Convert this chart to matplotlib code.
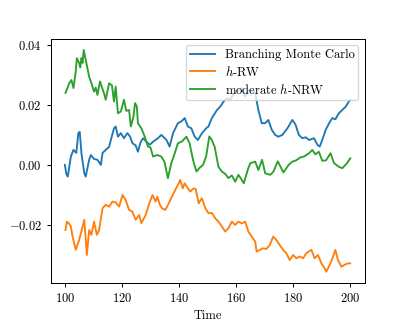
import matplotlib
matplotlib.use("Agg")
import matplotlib.pyplot as plt

plt.rcParams['font.family'] = 'serif'
plt.rcParams['font.serif'] = ['cmr10', 'DejaVu Serif']
plt.rcParams['mathtext.fontset'] = 'cm'
plt.rcParams['axes.formatter.use_mathtext'] = True

# Branching Monte Carlo
bmc_t = [100, 100.5, 101, 102.1, 103, 104, 104.7, 105.2, 105.8, 106.8, 107.3, 108.5,
         109.1, 110.2, 111.4, 112.6, 113.2, 114.3, 115.5, 116.1, 117.2, 117.8, 118.6,
         119.6, 120.7, 121.9, 122.8, 123.7, 124.8, 125.6, 126.5, 127.4, 128.5, 129.7,
         131, 132.6, 133.8, 134.7, 135.6, 136.7, 137.9, 139.6, 140.8, 142, 143.1,
         144.3, 145.5, 146.6, 148, 149.5, 150.3, 151.5, 153.3, 154.5, 155.6, 156.8,
         157.9, 159.7, 160.8, 162, 163.2, 164.3, 165.5, 166.7, 167.8, 169, 170.2,
         171.3, 172.5, 173.7, 174.8, 176.2, 178, 179.7, 180.8, 182, 183.2, 184.4,
         185.6, 187.3, 188.5, 189.3, 190.2, 191.4, 192.6, 193.7, 194.8, 196, 197.2,
         198.4, 199.5, 200]
bmc_y = [0.0, -0.003, -0.0039, 0.0028, 0.005, 0.004, 0.0106, 0.011, 0.0039, -0.0028,
         -0.0039, 0.0017, 0.0033, 0.002, 0.0017, 0.0, 0.004, 0.005, 0.006, 0.0083,
         0.0122, 0.0128, 0.0094, 0.0106, 0.0089, 0.0106, 0.0095, 0.0072, 0.0065,
         0.0044, 0.0075, 0.0089, 0.0078, 0.0067, 0.0078, 0.0089, 0.01, 0.0092, 0.0083,
         0.0061, 0.0106, 0.0139, 0.0145, 0.0156, 0.0128, 0.0122, 0.0094, 0.0083,
         0.0105, 0.0122, 0.0128, 0.0156, 0.0183, 0.0195, 0.0211, 0.0222, 0.0217,
         0.0244, 0.025, 0.0256, 0.0228, 0.025, 0.0245, 0.0239, 0.0183, 0.0139, 0.0139,
         0.015, 0.0117, 0.01, 0.0094, 0.01, 0.0122, 0.015, 0.0135, 0.01, 0.0089,
         0.0092, 0.0083, 0.0089, 0.0067, 0.0061, 0.0083, 0.0117, 0.0139, 0.0156,
         0.0152, 0.0172, 0.0183, 0.0194, 0.0211, 0.0217]

# h-RW
hrw_t = [100.2, 100.7, 101.4, 102.1, 102.7, 103.8, 105, 106.2, 106.8, 107.7, 108.5,
         109.3, 110.2, 111.2, 112, 113.2, 114.3, 115.5, 116.7, 117.8, 119, 120.2,
         121.3, 122.5, 123.6, 124.8, 126, 126.8, 128.3, 129.5, 130.7, 131.8, 132.4,
         133.3, 134, 135.2, 136.3, 137.5, 138.7, 139.9, 140.4, 141.3, 142, 142.9,
         143.9, 145.1, 145.8, 146.9, 148, 149.2, 150.3, 151.5, 152.7, 153.8, 155,
         156.2, 157.3, 158.5, 159.7, 160.8, 162, 163.2, 164.3, 165.5, 166.7, 167.2,
         168.3, 169.5, 170.6, 171.8, 173, 174.1, 175.3, 176.5, 177.6, 178.8, 180,
         181.1, 182.3, 183.5, 184.6, 186.4, 187.5, 188.7, 189.9, 191, 191.6, 192.8,
         193.8, 194.8, 195.7, 196.9, 198, 199.2, 200]
hrw_y = [-0.0217, -0.0189, -0.0195, -0.0206, -0.0239, -0.0283, -0.025, -0.0206,
         -0.0183, -0.03, -0.0217, -0.0233, -0.0189, -0.0233, -0.0217, -0.0144,
         -0.0133, -0.0139, -0.0122, -0.0125, -0.0139, -0.01, -0.0117, -0.015,
         -0.0155, -0.0183, -0.0167, -0.0194, -0.0167, -0.013, -0.01, -0.0122,
         -0.0106, -0.0133, -0.0144, -0.015, -0.013, -0.0106, -0.0083, -0.0061,
         -0.005, -0.0078, -0.0061, -0.0075, -0.0089, -0.0078, -0.008, -0.0128,
         -0.0111, -0.0144, -0.0161, -0.016, -0.0178, -0.0189, -0.0205, -0.0222,
         -0.0211, -0.0189, -0.02, -0.0189, -0.0195, -0.0189, -0.0222, -0.0239,
         -0.0256, -0.0289, -0.0283, -0.0278, -0.028, -0.0267, -0.0239, -0.025,
         -0.0267, -0.0283, -0.0294, -0.0317, -0.03, -0.0311, -0.0305, -0.0311,
         -0.0294, -0.0283, -0.0311, -0.03, -0.0328, -0.0344, -0.0356, -0.0333,
         -0.031, -0.0283, -0.0317, -0.0339, -0.0333, -0.0328, -0.0328]

# moderate h-NRW
nrw_t = [100.2, 100.9, 101.5, 102.3, 103, 103.8, 104.2, 105, 105.4, 105.8, 106.2,
         106.6, 107.3, 108.5, 109.3, 110.2, 110.8, 111.4, 112.3, 113.7, 114.3, 115.5,
         116.5, 117.2, 117.8, 118.6, 119.6, 120.7, 121.5, 122.5, 123.1, 124, 124.6,
         125.2, 125.6, 126.8, 128, 129.1, 130, 130.9, 132.3, 133.8, 134.9, 136.1,
         137.3, 138.5, 139.6, 141, 142.6, 143.7, 144.9, 146.1, 147.2, 148.4, 149.5,
         150.6, 151.5, 152.5, 153.8, 155, 156.2, 157.3, 158.5, 159.7, 160.8, 162,
         162.7, 164.3, 165, 166.7, 167.8, 169.1, 170.2, 172, 173.1, 174.6, 176.6,
         178.4, 179.7, 181, 182.5, 183.8, 185.6, 186.7, 187.8, 189, 190.2, 191.5,
         193.1, 194.3, 196, 197.2, 198.9, 200]
nrw_y = [0.024, 0.0256, 0.0272, 0.0283, 0.0256, 0.0311, 0.0356, 0.0339, 0.0325,
         0.0356, 0.034, 0.0383, 0.035, 0.0294, 0.0272, 0.0244, 0.0258, 0.0233, 0.0278,
         0.0239, 0.0217, 0.0272, 0.0265, 0.0211, 0.0261, 0.0172, 0.0178, 0.0217,
         0.018, 0.0183, 0.0128, 0.016, 0.0206, 0.0195, 0.0139, 0.0122, 0.0094, 0.0061,
         0.0058, 0.0028, 0.0033, 0.0028, 0.001, -0.0044, 0.0006, 0.0039, 0.0072,
         0.0078, 0.0094, 0.0072, 0.0017, -0.0022, -0.001, 0.0, 0.0028, 0.0095, 0.0083,
         0.006, -0.0006, -0.0022, -0.003, -0.0044, -0.0035, -0.0056, -0.0033, -0.005,
         -0.0061, -0.001, 0.0006, 0.0011, -0.0017, 0.0017, -0.0028, -0.0033, -0.0022,
         0.0012, -0.0025, 0.0, 0.0011, 0.0015, 0.0025, 0.0028, 0.0039, 0.005, 0.0035,
         0.0044, 0.0014, 0.0015, 0.0039, 0.0006, -0.0006, -0.0011, 0.0006, 0.0022]

fig, ax = plt.subplots(figsize=(4.5, 3.6), dpi=90)
fig.subplots_adjust(left=0.125, right=0.9, bottom=0.127, top=0.88)

ax.plot(bmc_t, bmc_y, label='Branching Monte Carlo')
ax.plot(hrw_t, hrw_y, label='$h$-RW')
ax.plot(nrw_t, nrw_y, label='moderate $h$-NRW')

ax.set_xlabel('Time')
ax.set_xticks([100, 120, 140, 160, 180, 200])
ax.set_yticks([-0.02, 0.0, 0.02, 0.04])
ax.legend(loc='upper right', labelspacing=0.3, borderpad=0.3)

fig.savefig('out.png', dpi=90)
